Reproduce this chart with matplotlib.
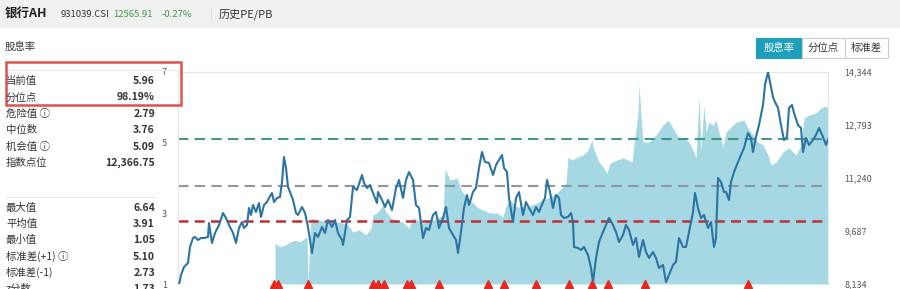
import matplotlib.pyplot as plt
from matplotlib.patches import Rectangle

plt.rcParams['font.family'] = ['Noto Sans CJK SC', 'DejaVu Sans']

# index points (right axis), time in weeks from start
idx_t = [1, 3, 6, 10, 12, 15, 17, 20, 23, 26, 30, 31, 34, 37, 41, 45, 48, 51, 55, 58,
         61, 64, 66, 69, 71, 73, 75, 78, 81, 83, 86, 89, 91, 94, 96, 99, 102, 104, 106, 108,
         110, 112, 115, 118, 120, 124, 127, 130, 134, 137, 140, 144, 147, 150, 154, 157, 160, 164, 165, 169,
         172, 175, 179, 184, 186, 189, 192, 195, 199, 200, 204, 207, 210, 214, 218, 221, 225, 228, 231, 235,
         238, 241, 245, 248, 251, 255, 258, 261, 265, 268, 271, 275, 278, 280, 283, 286, 289, 291, 295, 298,
         301, 304, 307, 311, 315, 318, 321, 324, 326, 329, 331, 335, 338, 341, 345, 348, 351, 355, 358, 361,
         365, 367, 369, 372, 375, 378, 381, 383, 386, 390, 393, 395, 396, 400, 403, 406, 410, 413, 415, 418,
         421, 425, 428, 431, 435, 438, 441, 445, 448, 451, 455, 458, 461, 465, 468, 471, 475, 478, 481, 485,
         488, 491, 495, 498, 501, 505, 508, 511, 515, 517, 520, 523, 526, 530, 533, 536, 538, 540, 543, 546,
         548, 551, 553, 556, 560, 563, 566, 570, 573, 575, 578, 581, 585, 587, 590, 592, 595, 597, 600, 603,
         606, 609, 611, 614, 616, 620, 623, 625, 628, 631, 635, 638, 641, 645, 648, 650]
idx_v = [8105, 8398, 8632, 8750, 9218, 9482, 9511, 9423, 9482, 9482, 9511, 9921, 9335, 9628, 9863, 10214, 10068, 9863, 9628, 9335,
         9775, 9950, 9775, 9863, 10361, 10156, 10448, 10243, 10507, 10097, 10448, 10536, 10653, 10800, 10536, 10653, 10683, 11122, 11854, 11532,
         10976, 10829, 10595, 10214, 10156, 10390, 10214, 9804, 9043, 9628, 9511, 9804, 9628, 10009, 9804, 10009, 9628, 9423, 9277, 10009,
         10097, 10976, 10888, 11327, 11093, 10946, 11034, 10800, 10507, 10829, 10595, 10390, 10595, 10302, 10946, 11181, 10653, 11181, 11415, 11181,
         10448, 10361, 9482, 9775, 9716, 10156, 10243, 9775, 10068, 10390, 9775, 9570, 9423, 9043, 9658, 10361, 10741, 10448, 10829, 10946,
         11532, 12001, 11708, 11679, 11327, 11620, 11766, 11913, 11532, 11415, 10653, 9950, 10653, 10829, 10156, 10536, 10361, 10156, 10390, 10243,
         10536, 10653, 11181, 10829, 10361, 10741, 10653, 10156, 10068, 10097, 10214, 9950, 9218, 9189, 9130, 9218, 8984, 8603, 8193, 8896,
         9365, 9658, 9863, 10068, 9863, 9658, 9365, 9570, 9863, 9716, 9277, 9482, 8925, 9423, 9072, 8896, 9072, 8896, 8603, 8691,
         8193, 8398, 8691, 8779, 9482, 9218, 9218, 9658, 10243, 10800, 10361, 10068, 10156, 9775, 9950, 9218, 9482, 11239, 11122, 10829,
         10829, 10595, 11122, 11415, 11708, 11913, 12118, 12557, 12411, 12001, 12440, 12792, 13377, 13963, 14344, 14051, 13612, 13465, 13290, 12792,
         12352, 12440, 13290, 13377, 13143, 12792, 12704, 12001, 12411, 12206, 12352, 12499, 12704, 12440, 12206, 12367]

# dividend yield (left axis)
dy_t = [97, 102, 107, 112, 117, 122, 127, 129, 130, 133, 141, 151, 161, 170, 175, 181, 188, 193, 195, 200,
        205, 208, 213, 218, 225, 231, 235, 245, 255, 265, 267, 269, 272, 279, 282, 285, 292, 299, 305, 312,
        319, 325, 329, 332, 339, 349, 359, 365, 372, 379, 385, 388, 390, 394, 399, 405, 410, 414, 415, 420,
        425, 429, 432, 439, 445, 450, 454, 457, 460, 461, 463, 465, 471, 478, 485, 490, 495, 500, 505, 511,
        516, 518, 521, 523, 526, 528, 531, 535, 538, 541, 545, 548, 558, 566, 570, 575, 580, 585, 590, 593,
        598, 605, 611, 618, 623, 626, 631, 638, 643, 648, 650]
dy_v = [2.16, 2.05, 2.10, 2.19, 2.24, 2.19, 2.30, 2.33, 1.05, 2.87, 2.81, 2.75, 2.75, 2.67, 2.47, 2.53, 2.39, 2.58, 2.95, 3.04,
        3.24, 3.04, 2.87, 2.81, 2.75, 2.58, 2.87, 2.73, 2.81, 2.95, 4.23, 4.14, 3.94, 4.00, 3.75, 3.58, 3.38, 3.18, 3.09, 3.01,
        3.01, 2.90, 3.29, 3.38, 3.18, 3.18, 3.29, 3.38, 3.46, 3.58, 3.75, 3.86, 4.59, 4.51, 4.59, 4.65, 4.79, 5.08, 4.88, 4.51,
        4.31, 4.14, 4.42, 4.51, 4.57, 4.51, 4.45, 5.16, 5.84, 6.64, 5.78, 5.02, 5.02, 5.22, 5.50, 5.64, 5.41, 5.16, 5.13, 5.02,
        4.74, 4.57, 6.29, 4.79, 6.07, 5.30, 5.58, 5.50, 5.64, 5.30, 4.85, 5.30, 5.58, 5.64, 5.41, 5.22, 5.02, 4.93, 4.65, 4.37,
        4.45, 4.74, 4.85, 4.65, 4.93, 5.70, 5.78, 5.84, 5.98, 6.04, 5.96]

# signal markers
sig_t = [96, 100, 130, 195, 200, 206, 229, 233, 261, 310, 326, 358, 391, 414, 430, 467, 570]

danger, median, chance = 2.79, 3.76, 5.09
right_ticks = [8134, 9687, 11240, 12793, 14344]

stats_top = [('当前值', '5.96'), ('分位点', '98.19%'), ('危险值 ⓘ', '2.79'),
             ('中位数', '3.76'), ('机会值 ⓘ', '5.09'), ('指数点位', '12,366.75')]
stats_bottom = [('最大值', '6.64'), ('平均值', '3.91'), ('最小值', '1.05'),
                ('标准差(+1) ⓘ', '5.10'), ('标准差(-1)', '2.73'), ('z分数', '1.73')]

W, H = 900, 289
fig = plt.figure(figsize=(W / 100, H / 100), dpi=100)


def txt(x, y, s, **kw):
    kw.setdefault('va', 'center')
    fig.text(x / W, 1 - y / H, s, **kw)


def box(x, y, w, h, **kw):
    fig.patches.append(Rectangle((x / W, 1 - (y + h) / H), w / W, h / H,
                                 transform=fig.transFigure, **kw))


# header bar
box(0, 0, W, 28, facecolor='#f0f0f0', edgecolor='none')
txt(5, 14, '银行AH', fontsize=9, fontweight='bold', color='#222222')
txt(61, 14.5, '931039.CSI', fontsize=6.8, color='#333333')
txt(113, 14.5, '12565.91', fontsize=6.8, color='#3a9d46')
txt(162, 14.5, '-0.27%', fontsize=6.8, color='#3a9d46')
box(211, 8, 1, 12, facecolor='#dddddd', edgecolor='none')
txt(219, 14, '历史PE/PB', fontsize=8, color='#333333')

# left stats panel
txt(5, 47, '股息率', fontsize=7.5, color='#333333')
box(6, 70, 174, 0.6, facecolor='#e5e5e5', edgecolor='none')
for i, (lab, val) in enumerate(stats_top):
    y = 81 + i * 16.4
    txt(6, y, lab, fontsize=7.5, color='#333333')
    txt(155, y, val, fontsize=7.5, color='#333333', ha='right', fontweight='bold')
box(6, 197, 150, 0.6, facecolor='#e5e5e5', edgecolor='none')
for i, (lab, val) in enumerate(stats_bottom):
    y = 208 + i * 16.2
    txt(6, y, lab, fontsize=7.5, color='#333333')
    txt(155, y, val, fontsize=7.5, color='#333333', ha='right', fontweight='bold')
box(6, 62, 175, 43, facecolor='none', edgecolor='#d9534f', linewidth=1.8)

# toggle buttons
box(756, 38, 46, 20, facecolor='#1e9fbc', edgecolor='#1e9fbc', linewidth=0.8)
box(802, 38, 43, 20, facecolor='white', edgecolor='#cccccc', linewidth=0.8)
box(845, 38, 43, 20, facecolor='white', edgecolor='#cccccc', linewidth=0.8)
txt(779, 48, '股息率', fontsize=7.5, color='white', ha='center')
txt(823.5, 48, '分位点', fontsize=7.5, color='#333333', ha='center')
txt(866.5, 48, '标准差', fontsize=7.5, color='#333333', ha='center')

# chart
ax = fig.add_axes([178 / W, 1 - 284 / H, 650 / W, 212 / H])
ax.fill_between(dy_t, 1, dy_v, color='#a5d8e3', linewidth=0, zorder=1)
ax.axhline(chance, color='#3d9a8b', lw=1.5, ls=(0, (5, 3)), zorder=2)
ax.axhline(median, color='#8d979c', lw=1.5, ls=(0, (5, 3)), zorder=2)
ax.axhline(danger, color='#bf2f2f', lw=1.8, ls=(0, (4, 2.5)), zorder=2)
ax.set_xlim(0, 650)
ax.set_ylim(1, 7)
ax.set_yticks([1, 3, 5, 7])
ax.set_xticks([])
ax.tick_params(axis='y', length=0, labelsize=6.5, labelcolor='#555555', pad=8)
for s in ['top', 'left', 'right']:
    ax.spines[s].set_color('#e6e6e6')
    ax.spines[s].set_linewidth(0.8)
ax.spines['bottom'].set_visible(False)

ax2 = ax.twinx()
ax2.plot(idx_t, idx_v, color='#2b74a3', lw=1.5, zorder=3)
ax2.plot(sig_t, [8134] * len(sig_t), ls='none', marker='^', ms=6,
         color='#e8281e', clip_on=False, zorder=4)
ax2.set_ylim(8134, 14344)
ax2.set_yticks(right_ticks)
ax2.set_yticklabels([f'{v:,}' for v in right_ticks])
ax2.tick_params(axis='y', length=0, labelsize=6.5, labelcolor='#555555', pad=12)
for s in ax2.spines.values():
    s.set_visible(False)

fig.savefig('out.png', dpi=100)
